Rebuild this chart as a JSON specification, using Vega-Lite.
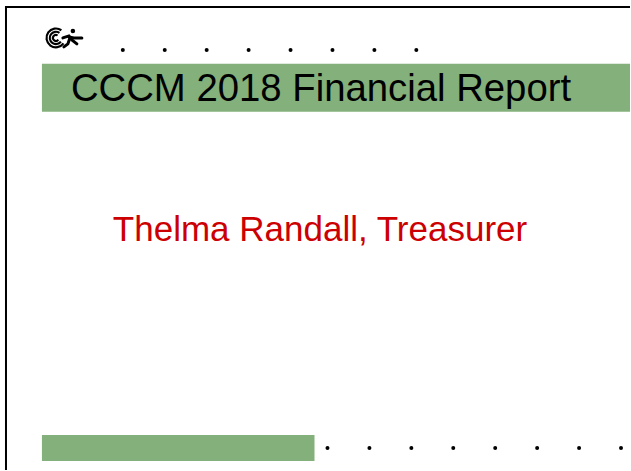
{
  "$schema": "https://vega.github.io/schema/vega-lite/v6.json",
  "width": 631,
  "height": 471,
  "padding": 0,
  "autosize": {"type": "fit", "contains": "padding"},
  "background": "white",
  "config": {"view": {"stroke": null}},
  "datasets": {
    "borders": [
      {"x": 5, "x2": 631, "y": 7, "y2": 7},
      {"x": 6, "x2": 6, "y": 7, "y2": 471}
    ],
    "bars": [
      {"x": 42, "x2": 631, "y": 64, "y2": 112},
      {"x": 42, "x2": 315, "y": 436, "y2": 462}
    ],
    "dots": [
      {"x": 123, "y": 50}, {"x": 165, "y": 50}, {"x": 207, "y": 50}, {"x": 249, "y": 50},
      {"x": 291, "y": 50}, {"x": 333, "y": 50}, {"x": 375, "y": 50}, {"x": 417, "y": 50},
      {"x": 328, "y": 449}, {"x": 370, "y": 449}, {"x": 412, "y": 449}, {"x": 454, "y": 449},
      {"x": 496, "y": 449}, {"x": 538, "y": 449}, {"x": 580, "y": 449}, {"x": 622, "y": 449}
    ],
    "rings": [
      {"x": 56, "y": 38, "r": 10.5, "r2": 8.3},
      {"x": 56, "y": 38, "r": 7.2, "r2": 5.1},
      {"x": 56, "y": 38, "r": 4, "r2": 1.9}
    ],
    "runner": [
      {"part": "body", "o": 1, "x": 63, "y": 38},
      {"part": "body", "o": 2, "x": 69, "y": 36},
      {"part": "body", "o": 3, "x": 72, "y": 40},
      {"part": "body", "o": 4, "x": 77, "y": 44},
      {"part": "arm", "o": 1, "x": 69, "y": 37},
      {"part": "arm", "o": 2, "x": 74, "y": 38},
      {"part": "arm", "o": 3, "x": 82, "y": 38},
      {"part": "leg", "o": 1, "x": 70, "y": 38},
      {"part": "leg", "o": 2, "x": 68, "y": 44},
      {"part": "leg", "o": 3, "x": 64, "y": 47}
    ],
    "head": [{"x": 73, "y": 31}],
    "texts": [
      {"x": 71, "y": 101, "label": "CCCM 2018 Financial Report", "kind": "title"},
      {"x": 113, "y": 242, "label": "Thelma Randall, Treasurer", "kind": "sub"}
    ]
  },
  "layer": [
    {
      "data": {"name": "bars"},
      "mark": {"type": "rect", "color": "#84B07B"},
      "encoding": {
        "x": {"field": "x", "type": "quantitative", "scale": {"domain": [0, 631], "nice": false, "zero": false}, "axis": null},
        "x2": {"field": "x2"},
        "y": {"field": "y", "type": "quantitative", "scale": {"domain": [0, 471], "nice": false, "zero": false, "reverse": true}, "axis": null},
        "y2": {"field": "y2"}
      }
    },
    {
      "data": {"name": "borders"},
      "mark": {"type": "rule", "color": "black", "strokeWidth": 2},
      "encoding": {
        "x": {"field": "x", "type": "quantitative"},
        "x2": {"field": "x2"},
        "y": {"field": "y", "type": "quantitative"},
        "y2": {"field": "y2"}
      }
    },
    {
      "data": {"name": "dots"},
      "mark": {"type": "circle", "color": "black", "size": 16, "opacity": 1},
      "encoding": {
        "x": {"field": "x", "type": "quantitative"},
        "y": {"field": "y", "type": "quantitative"}
      }
    },
    {
      "data": {"name": "rings"},
      "mark": {"type": "arc", "color": "black", "theta": 2.2, "theta2": 6.9},
      "encoding": {
        "x": {"field": "x", "type": "quantitative"},
        "y": {"field": "y", "type": "quantitative"},
        "radius": {"field": "r", "type": "quantitative", "scale": null},
        "radius2": {"field": "r2"}
      }
    },
    {
      "data": {"name": "runner"},
      "mark": {"type": "line", "color": "black", "strokeWidth": 3, "strokeCap": "round"},
      "encoding": {
        "x": {"field": "x", "type": "quantitative"},
        "y": {"field": "y", "type": "quantitative"},
        "detail": {"field": "part"},
        "order": {"field": "o"}
      }
    },
    {
      "data": {"name": "head"},
      "mark": {"type": "circle", "color": "black", "size": 20, "opacity": 1},
      "encoding": {
        "x": {"field": "x", "type": "quantitative"},
        "y": {"field": "y", "type": "quantitative"}
      }
    },
    {
      "data": {"name": "texts"},
      "mark": {"type": "text", "align": "left", "baseline": "alphabetic", "font": "Liberation Sans"},
      "encoding": {
        "x": {"field": "x", "type": "quantitative"},
        "y": {"field": "y", "type": "quantitative"},
        "text": {"field": "label"},
        "size": {"field": "kind", "type": "nominal", "scale": {"domain": ["title", "sub"], "range": [38.3, 35]}, "legend": null},
        "color": {"field": "kind", "type": "nominal", "scale": {"domain": ["title", "sub"], "range": ["#000000", "#CC0000"]}, "legend": null}
      }
    }
  ]
}
